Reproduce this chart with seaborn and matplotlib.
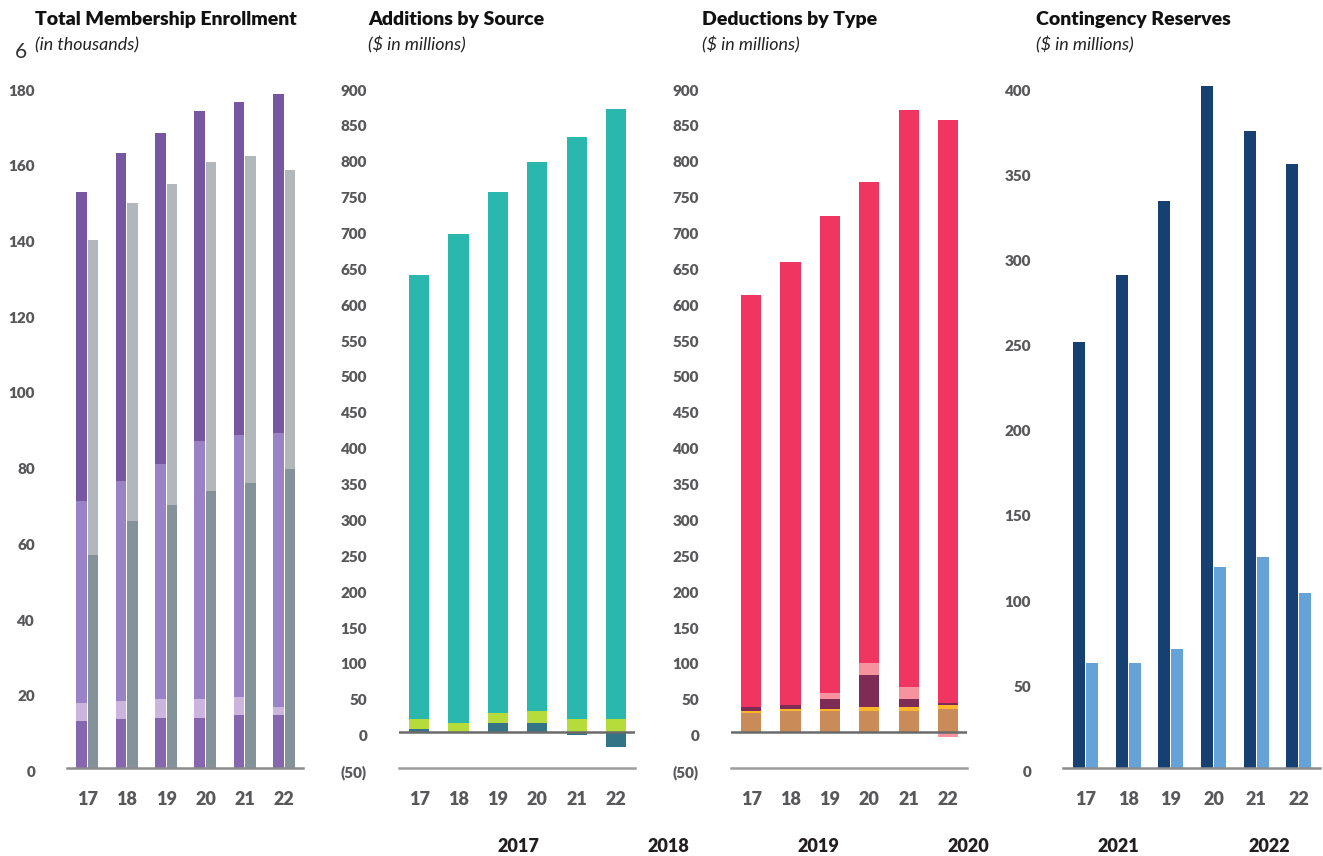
import numpy as np
import pandas as pd
import matplotlib
matplotlib.use("Agg")
import matplotlib.pyplot as plt
import matplotlib.transforms as mtransforms
import seaborn as sns

sns.set_style("white")
plt.rcParams["font.family"] = ["Lato", "DejaVu Sans"]
plt.rcParams["font.weight"] = "bold"

# ---------------------------------------------------------------- data
years = ["17", "18", "19", "20", "21", "22"]

# Total Membership Enrollment (thousands): active members stacked in four parts
members_base = [12.2, 12.7, 13.2, 13.2, 13.8, 13.8]
members_band = [4.8, 4.8, 4.8, 4.8, 4.7, 2.1]
members_mid = [53.4, 58.2, 62.2, 68.2, 69.3, 72.5]
members_top = [81.6, 86.7, 87.5, 87.3, 87.9, 89.4]
# retirees and beneficiaries, two parts
retirees_lower = [56.0, 65.0, 69.3, 73.0, 75.1, 78.8]
retirees_upper = [83.4, 84.2, 84.7, 86.8, 86.3, 78.9]

# Additions by Source ($ millions)
investment_income = [4.2, 0.0, 12.5, 12.5, -4.2, -20.9]
member_contrib = [13.8, 12.5, 13.9, 16.7, 18.0, 18.0]
employer_contrib = [618.0, 681.5, 725.6, 764.2, 811.6, 850.6]

# Deductions by Type ($ millions)
admin_expense = [26.0, 28.8, 28.8, 28.8, 28.8, 31.6]
other_expense = [2.8, 2.8, 2.8, 5.6, 5.6, 5.5]
refunds = [5.6, 5.5, 13.9, 44.5, 11.1, 2.8]
disability = [0.0, 0.0, 8.3, 16.7, 16.7, -7.0]
benefits = [573.6, 617.9, 665.2, 670.4, 804.3, 812.7]

# Contingency Reserves ($ millions)
reserve_balance = [250.0, 289.0, 332.5, 401.0, 373.5, 354.5]
reserve_required = [61.3, 61.3, 69.8, 117.7, 123.6, 102.4]

footer_years = ["2017", "2018", "2019", "2020", "2021", "2022"]

# ---------------------------------------------------------------- styling
W, H = 1323, 856
TICK_GRAY = "#58585a"
fig = plt.figure(figsize=(W / 100, H / 100), dpi=100)


def px_axes(x0, x1, y_top, y_bot):
    return fig.add_axes([x0 / W, 1 - y_bot / H, (x1 - x0) / W, (y_bot - y_top) / H])


def fig_text(x, y, s, **kw):
    fig.text(x / W, 1 - y / H, s, **kw)


def style_axis(ax, yticks, ylabels, xlim, ylim, spine_color):
    ax.set_xlim(*xlim)
    ax.set_ylim(*ylim)
    for side in ["top", "right", "left"]:
        ax.spines[side].set_visible(False)
    ax.spines["bottom"].set_color(spine_color)
    ax.spines["bottom"].set_linewidth(1.8)
    ax.set_yticks(yticks)
    ax.set_yticklabels(ylabels, fontweight="heavy")
    ax.set_xticks(range(len(years)))
    ax.set_xticklabels(years, fontweight="heavy")
    ax.tick_params(axis="y", length=0, pad=23, labelsize=11, labelcolor=TICK_GRAY)
    ax.tick_params(axis="x", length=0, pad=17, labelsize=13, labelcolor=TICK_GRAY)
    for lab in ax.get_yticklabels():
        lab.set_transform(lab.get_transform()
                          + mtransforms.ScaledTranslation(0, -0.04, fig.dpi_scale_trans))
    ax.set_xlabel("")
    ax.set_ylabel("")
    ax.grid(False)


def stacked_bars(ax, segments, colors, width):
    segs = np.array(segments, dtype=float)
    pos = np.clip(segs, 0, None)
    cum = np.cumsum(pos, axis=0)
    for i in range(len(segs) - 1, -1, -1):
        sns.barplot(x=years, y=cum[i], color=colors[i], width=width, saturation=1,
                    linewidth=0, errorbar=None, ax=ax)
    for i in range(len(segs)):
        neg = np.clip(segs[i], None, 0)
        if np.any(neg < 0):
            sns.barplot(x=years, y=neg, color=colors[i], width=width, saturation=1,
                        linewidth=0, errorbar=None, ax=ax)


# ---------------------------------------------------------------- panel 1
ax1 = px_axes(67, 303, 86, 767.5)
m_cum = np.cumsum(np.array([members_base, members_band, members_mid, members_top]), axis=0)
r_cum = np.cumsum(np.array([retirees_lower, retirees_upper]), axis=0)
zeros = np.zeros(len(years))
layers = [
    (m_cum[3], r_cum[1], "#7757a1", "#b1b7ba"),
    (m_cum[2], r_cum[0], "#9a82c7", "#84929a"),
    (m_cum[1], zeros, "#cbb5df", "#84929a"),
    (m_cum[0], zeros, "#8766b0", "#84929a"),
]
for m_vals, r_vals, m_col, r_col in layers:
    df = pd.DataFrame({
        "year": years * 2,
        "group": ["members"] * len(years) + ["retirees"] * len(years),
        "value": np.concatenate([m_vals, r_vals]),
    })
    sns.barplot(data=df, x="year", y="value", hue="group", hue_order=["members", "retirees"],
                palette={"members": m_col, "retirees": r_col}, width=0.585, gap=0.09,
                saturation=1, linewidth=0, errorbar=None, legend=False, ax=ax1)
style_axis(ax1, list(range(0, 181, 20)), [str(v) for v in range(0, 181, 20)],
           (-0.52, 5.48), (0, 180), "#8c8c8c")

# ---------------------------------------------------------------- panel 2
ax2 = px_axes(399, 635, 86, 767.5)
stacked_bars(ax2, [investment_income, member_contrib, employer_contrib],
             ["#347487", "#b6dc3c", "#2ab7ae"], 0.51)
ax2.axhline(0, color="#6a6a6a", lw=1.8, zorder=5)
money_ticks = list(range(-50, 901, 50))
money_labels = ["(50)"] + [str(v) for v in money_ticks[1:]]
style_axis(ax2, money_ticks, money_labels, (-0.51, 5.48), (-50, 900), "#9d9d9d")

# ---------------------------------------------------------------- panel 3
ax3 = px_axes(731, 967, 86, 767.5)
stacked_bars(ax3, [admin_expense, other_expense, refunds, disability, benefits],
             ["#c98b58", "#fdb62b", "#7e2c55", "#f6939e", "#f03560"], 0.51)
ax3.axhline(0, color="#6a6a6a", lw=1.8, zorder=5)
style_axis(ax3, money_ticks, money_labels, (-0.51, 5.48), (-50, 900), "#9d9d9d")

# ---------------------------------------------------------------- panel 4
ax4 = px_axes(1063, 1320, 86, 767.5)
df4 = pd.DataFrame({
    "year": years * 2,
    "kind": ["balance"] * len(years) + ["required"] * len(years),
    "value": reserve_balance + reserve_required,
})
sns.barplot(data=df4, x="year", y="value", hue="kind", hue_order=["balance", "required"],
            palette={"balance": "#154071", "required": "#65a2d8"}, width=0.61, gap=0.077,
            saturation=1, linewidth=0, errorbar=None, legend=False, ax=ax4)
style_axis(ax4, list(range(0, 401, 50)), [str(v) for v in range(0, 401, 50)],
           (-0.53, 5.5), (0, 400), "#8c8c8c")

# ---------------------------------------------------------------- titles
titles = [
    (35, "Total Membership Enrollment", "(in thousands)"),
    (368, "Additions by Source", "($ in millions)"),
    (702, "Deductions by Type", "($ in millions)"),
    (1036, "Contingency Reserves", "($ in millions)"),
]
for x, title, sub in titles:
    fig_text(x, 25, title, fontsize=14.0, fontweight="heavy", color="#111111",
             ha="left", va="baseline")
    fig_text(x, 50, sub, fontsize=12.9, fontstyle="italic", fontweight="normal",
             color="#222222", ha="left", va="baseline")

fig_text(20.5, 51.5, "6", fontsize=15, fontweight="normal", color="#333333",
         ha="center", va="center")

for x, label in zip([518.5, 668.5, 818.5, 968.5, 1118, 1269], footer_years):
    fig_text(x, 846, label, fontsize=13, fontweight="heavy", color="#231f20",
             ha="center", va="center")

fig.savefig("out.png", dpi=100)
